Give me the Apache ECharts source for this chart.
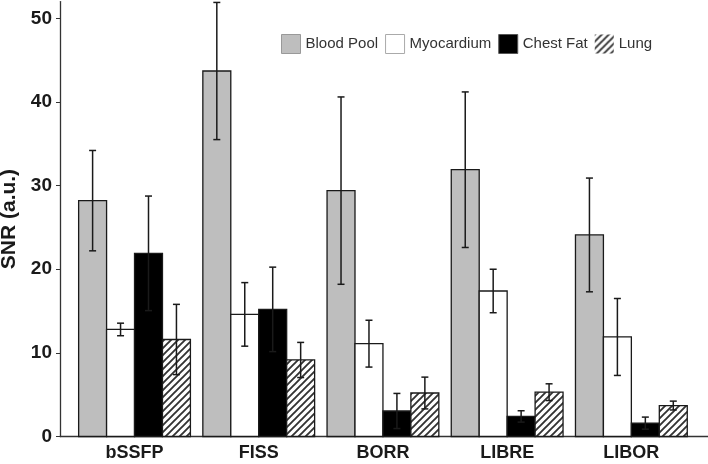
<!DOCTYPE html>
<html>
<head>
    <meta charset="utf-8">
    <title>SNR chart</title>
    <script src="https://cdn.jsdelivr.net/npm/echarts@6/dist/echarts.min.js"></script>
    <style>
        html, body { margin: 0; padding: 0; background: #fff; }
        #main { width: 708px; height: 464px; }
    </style>
</head>
<body>
<div id="main"></div>
<script type="text/javascript">
    // categories and values
    var categories = ['bSSFP', 'FISS', 'BORR', 'LIBRE', 'LIBOR'];
    var seriesNames = ['Blood Pool', 'Myocardium', 'Chest Fat', 'Lung'];
    var yTicks = [0, 10, 20, 30, 40, 50];

    var bloodPool = [28.2, 43.7, 29.4, 31.9, 24.1];
    var bloodPoolSd = [6.0, 8.2, 11.2, 9.3, 6.8];
    var myocardium = [12.8, 14.6, 11.1, 17.4, 11.9];
    var myocardiumSd = [0.75, 3.8, 2.8, 2.6, 4.6];
    var chestFat = [21.9, 15.2, 3.05, 2.4, 1.6];
    var chestFatSd = [6.85, 5.05, 2.1, 0.68, 0.72];
    var lung = [11.6, 9.15, 5.2, 5.3, 3.7];
    var lungSd = [4.2, 2.1, 1.9, 1.0, 0.53];

    // hatch pattern for Lung
    function makeHatch() {
        var s = 7;
        var c = document.createElement('canvas');
        c.width = s; c.height = s;
        var ctx = c.getContext('2d');
        ctx.fillStyle = '#fff';
        ctx.fillRect(0, 0, s, s);
        ctx.strokeStyle = '#333';
        ctx.lineWidth = 1.9;
        ctx.beginPath();
        ctx.moveTo(-1, s + 1); ctx.lineTo(s + 1, -1);
        ctx.moveTo(-1, 1); ctx.lineTo(1, -1);
        ctx.moveTo(s - 1, s + 1); ctx.lineTo(s + 1, s - 1);
        ctx.stroke();
        return {image: c, repeat: 'repeat'};
    }
    var hatch = makeHatch();

    var fills = ['#bebebe', '#ffffff', '#000000', hatch];
    var allMeans = [bloodPool, myocardium, chestFat, lung];
    var allSds = [bloodPoolSd, myocardiumSd, chestFatSd, lungSd];

    var groupW = 0.9;
    var barW = groupW / 4;

    function makeRender(k, fill) {
        var off = -groupW / 2 + barW * (k + 0.5);
        return function (params, api) {
            var x = api.value(0) + off;
            var m = api.value(1);
            var sd = api.value(2);
            var p0 = api.coord([x - barW / 2, 0]);
            var p1 = api.coord([x + barW / 2, m]);
            var top = api.coord([x, m + sd]);
            var bot = api.coord([x, Math.max(m - sd, 0)]);
            var cap = 3.5;
            return {
                type: 'group',
                children: [{
                    type: 'rect',
                    shape: {x: p0[0], y: p1[1], width: p1[0] - p0[0], height: p0[1] - p1[1]},
                    style: {fill: fill, stroke: '#1a1a1a', lineWidth: 1.3}
                }, {
                    type: 'line',
                    shape: {x1: top[0], y1: top[1], x2: bot[0], y2: bot[1]},
                    style: {stroke: '#1a1a1a', lineWidth: 1.5}
                }, {
                    type: 'line',
                    shape: {x1: top[0] - cap, y1: top[1], x2: top[0] + cap, y2: top[1]},
                    style: {stroke: '#1a1a1a', lineWidth: 1.5}
                }, {
                    type: 'line',
                    shape: {x1: bot[0] - cap, y1: bot[1], x2: bot[0] + cap, y2: bot[1]},
                    style: {stroke: '#1a1a1a', lineWidth: 1.5}
                }]
            };
        };
    }

    var series = seriesNames.map(function (name, k) {
        return {
            name: name,
            type: 'custom',
            renderItem: makeRender(k, fills[k]),
            itemStyle: {color: fills[k], borderColor: '#999', borderWidth: 1},
            encode: {x: 0, y: 1},
            data: categories.map(function (c, i) {
                return [i + 1, allMeans[k][i], allSds[k][i]];
            })
        };
    });

    var myChart = echarts.init(document.getElementById('main'));
    var option = {
        backgroundColor: '#fff',
        animation: false,
        textStyle: {fontFamily: 'Liberation Sans, Arial, sans-serif'},
        legend: {
            left: 281,
            top: 34,
            padding: 0,
            icon: 'rect',
            itemWidth: 19,
            itemHeight: 19,
            itemGap: 7,
            textStyle: {fontSize: 15, color: '#333', fontFamily: 'Liberation Sans, Arial, sans-serif'},
            data: [
                {name: 'Blood Pool', itemStyle: {borderColor: '#999', borderWidth: 1}},
                {name: 'Myocardium', itemStyle: {borderColor: '#aaa', borderWidth: 1}},
                {name: 'Chest Fat', itemStyle: {borderColor: '#555', borderWidth: 1}},
                {name: 'Lung', itemStyle: {borderColor: '#ccc', borderWidth: 0}}
            ]
        },
        grid: {left: 60, right: 0, top: 1.6, bottom: 27.5, outerBoundsMode: 'none'},
        xAxis: {
            type: 'value',
            min: 0.4,
            max: 5.617,
            splitLine: {show: false},
            axisLine: {show: true, lineStyle: {color: '#333', width: 1.3}},
            axisTick: {show: false},
            axisLabel: {
                customValues: [1, 2, 3, 4, 5],
                formatter: function (v) { return categories[Math.round(v) - 1]; },
                fontSize: 18,
                fontWeight: 'bold',
                color: '#1a1a1a',
                margin: 8
            }
        },
        yAxis: {
            type: 'value',
            min: 0,
            max: 52,
            name: 'SNR (a.u.)',
            nameLocation: 'middle',
            nameGap: 35,
            nameTextStyle: {fontSize: 21, fontWeight: 'bold', color: '#1a1a1a'},
            splitLine: {show: false},
            axisLine: {show: true, lineStyle: {color: '#333', width: 1.3}},
            axisTick: {show: true, length: 4, customValues: yTicks, lineStyle: {color: '#333'}},
            axisLabel: {
                customValues: yTicks,
                fontSize: 19,
                fontWeight: 'bold',
                color: '#1a1a1a',
                margin: 8
            }
        },
        series: series
    };
    myChart.setOption(option);
</script>
</body>
</html>
